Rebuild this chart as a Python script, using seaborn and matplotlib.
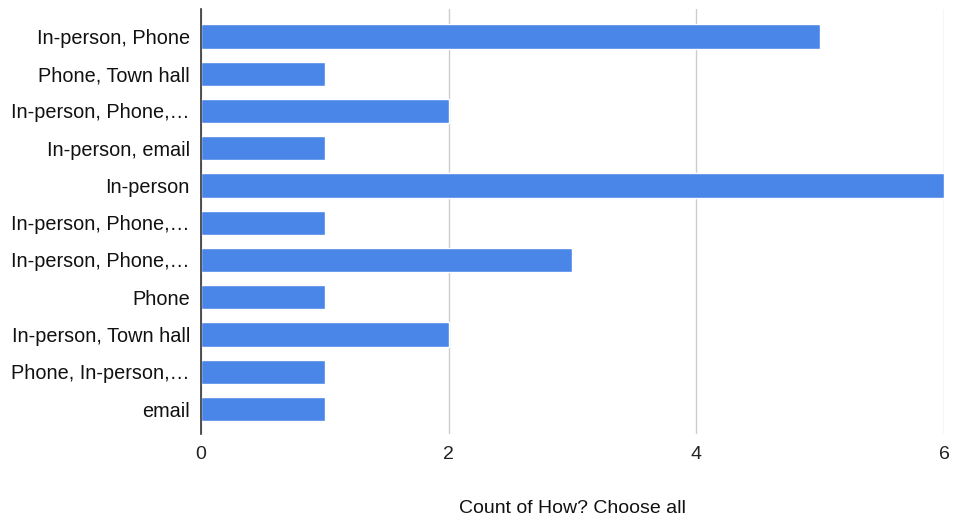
import matplotlib
matplotlib.use('Agg')
from matplotlib import pyplot as plt
import seaborn as sns
import pandas as pd

categories = ['In-person, Phone', 'Phone, Town hall', 'In-person, Phone,…', 'In-person, email',
              'In-person', 'In-person, Phone,…', 'In-person, Phone,…', 'Phone',
              'In-person, Town hall', 'Phone, In-person,…', 'email']
counts = [5, 1, 2, 1, 6, 1, 3, 1, 2, 1, 1]
x_ticks = [0, 2, 4, 6]

sns.set_style('white')
plt.rcParams['font.family'] = ['Liberation Sans', 'DejaVu Sans']

df = pd.DataFrame({'pos': [str(i) for i in range(len(categories))], 'count': counts})

fig = plt.figure(figsize=(9.54, 5.21), dpi=100)
ax = fig.add_axes([0.2107, 0.167, 0.7788, 0.816])

sns.barplot(data=df, y='pos', x='count', orient='h', color='#4a86e8',
            width=0.65, saturation=1, ax=ax)

ax.set_xlim(0, 6)
ax.set_ylim(10.67, -0.74)
ax.set_xticks(x_ticks)
ax.set_xticklabels([str(t) for t in x_ticks], fontsize=14, color='#222222')
ax.set_yticks(range(len(categories)))
ax.set_yticklabels(categories, fontsize=14.3, color='#111111')
ax.tick_params(axis='both', length=0, pad=8)
ax.tick_params(axis='x', pad=9)

ax.grid(axis='x', color='#cccccc', linewidth=1)
ax.set_axisbelow(True)
for s in ['top', 'right', 'bottom']:
    ax.spines[s].set_visible(False)
ax.spines['left'].set_color('#333333')
ax.spines['left'].set_linewidth(1.2)

ax.set_ylabel('')
ax.set_xlabel('Count of How? Choose all', fontsize=14, color='#111111', labelpad=26)

fig.savefig('out.png', dpi=100)
